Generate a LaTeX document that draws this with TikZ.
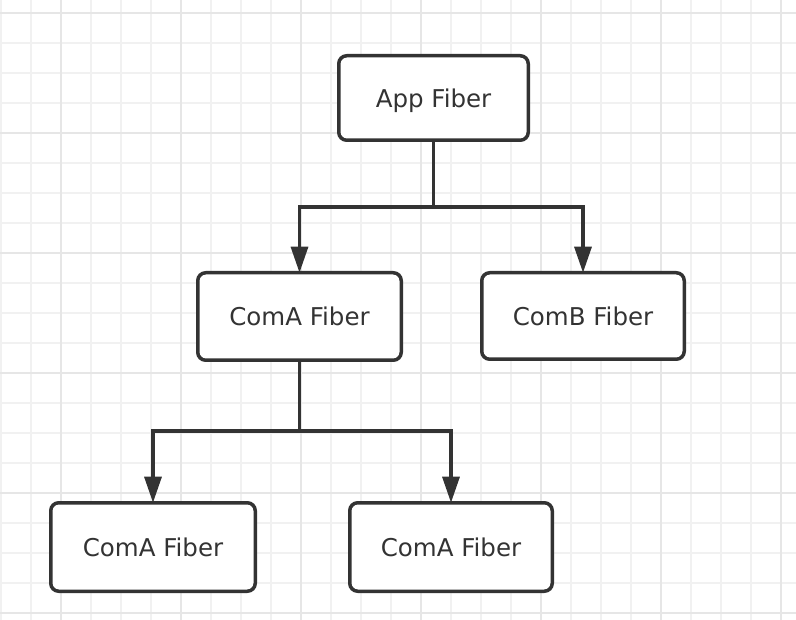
\documentclass[tikz,border=0pt]{standalone}
\usepackage{fontspec}
\setmainfont{DejaVu Sans}
\usetikzlibrary{arrows.meta}
\definecolor{ink}{HTML}{333333}
\definecolor{gridminor}{HTML}{F1F1F1}
\definecolor{gridmajor}{HTML}{E6E6E6}
\tikzset{
  fbox/.style={draw=ink, line width=3.5pt, rounded corners=8pt, fill=white,
    text=ink, font=\fontsize{24.5}{29}\selectfont, text height=18.5pt, text depth=0pt,
    inner sep=0pt},
  conn/.style={draw=ink, line width=3.2pt},
  arr/.style={conn, -{Triangle[length=26pt, width=17pt]}},
}
\begin{document}
\begin{tikzpicture}[x=1pt, y=-1pt]
\useasboundingbox (0,0) rectangle (796,620);
\fill[white] (0,0) rectangle (796,620);
% grid
\foreach \k in {0,...,26} {
  \draw[gridminor, line width=2pt] ({1+30*\k},0) -- ({1+30*\k},620);
}
\foreach \k in {0,...,20} {
  \draw[gridminor, line width=2pt] (0,{13+30*\k}) -- (796,{13+30*\k});
}
\foreach \k in {0,...,6} {
  \draw[gridmajor, line width=2pt] ({61+120*\k},0) -- ({61+120*\k},620);
}
\foreach \k in {0,...,5} {
  \draw[gridmajor, line width=2pt] (0,{13+120*\k}) -- (796,{13+120*\k});
}
% nodes
\node[fbox, minimum width=189.5pt, minimum height=84.5pt] (app) at (433.5,98) {App Fiber};
\node[fbox, minimum width=203.5pt, minimum height=87.5pt] (coma) at (299.5,316.5) {ComA Fiber};
\node[fbox, minimum width=202.5pt, minimum height=86.5pt] (comb) at (583,316) {ComB Fiber};
\node[fbox, minimum width=204.5pt, minimum height=88.5pt] (c1) at (153,547) {ComA Fiber};
\node[fbox, minimum width=202.5pt, minimum height=88.5pt] (c2) at (451,547) {ComA Fiber};
% connectors
\coordinate (j1) at (433.5,207);
\coordinate (j2) at (299.5,431);
\draw[conn] (app.south) -- (j1);
\draw[arr] (j1) -| ([yshift=-1.7pt]coma.north);
\draw[arr] (j1) -| ([yshift=-1.7pt]comb.north);
\draw[conn] (coma.south) -- (j2);
\draw[arr] (j2) -| ([yshift=-1.7pt]c1.north);
\draw[arr] (j2) -| ([yshift=-1.7pt]c2.north);
\end{tikzpicture}
\end{document}
